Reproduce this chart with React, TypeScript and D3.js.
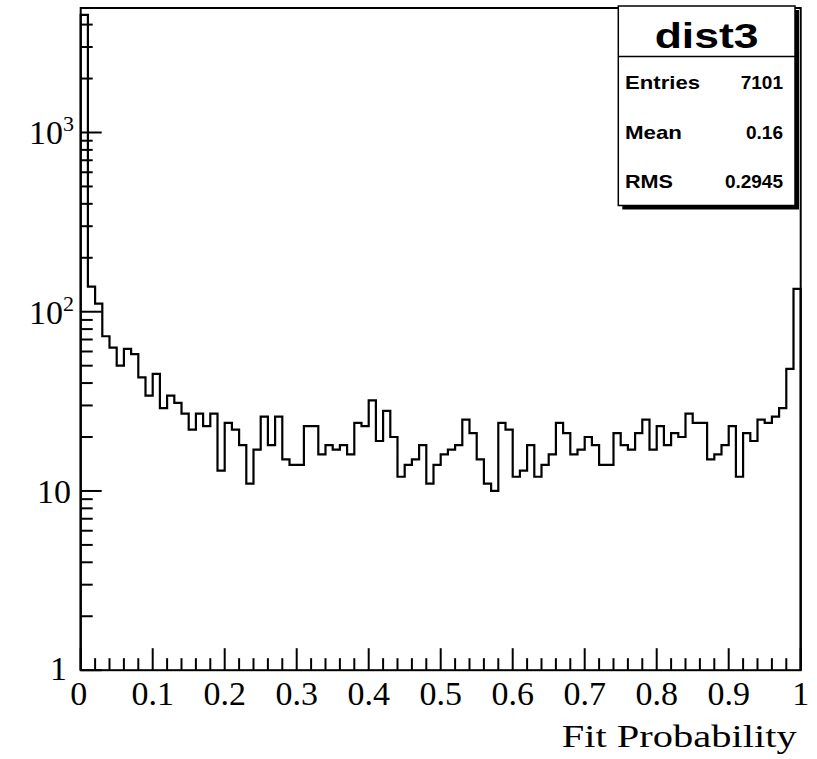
import React from 'react';
import * as d3 from 'd3';

// Histogram "dist3": 100 bins over [0, 1]
const binCounts = [
  4531, 138, 111, 73, 63, 50, 62, 58, 43, 34,
  45, 29, 34, 31, 27, 22, 27, 23, 27, 13,
  24, 22, 18, 11, 17, 26, 18, 26, 15, 14,
  14, 23, 23, 16, 18, 17, 18, 16, 24, 23,
  32, 19, 28, 20, 12, 14, 15, 18, 11, 14,
  16, 17, 18, 25, 21, 15, 11, 10, 24, 22,
  12, 13, 18, 12, 14, 16, 24, 21, 16, 17,
  20, 18, 14, 14, 21, 18, 17, 21, 25, 17,
  23, 18, 21, 20, 27, 24, 24, 15, 16, 18,
  23, 12, 21, 19, 25, 24, 26, 29, 48, 134,
];
const xMin = 0;
const xMax = 1;
const xTickValues = [0, 0.1, 0.2, 0.3, 0.4, 0.5, 0.6, 0.7, 0.8, 0.9, 1];
const xTickLabels = ['0', '0.1', '0.2', '0.3', '0.4', '0.5', '0.6', '0.7', '0.8', '0.9', '1'];
const yTickValues = [1, 10, 100, 1000];
const yTickBase = ['1', '10', '10', '10'];
const yTickExp = ['', '', '2', '3'];
const statsTitle = 'dist3';
const statsLabels = ['Entries', 'Mean', 'RMS'];
const statsValues = ['7101', '0.16', '0.2945'];
const xTitle = 'Fit Probability';

const W = 817;
const H = 759;
const L = 80.7;
const R = 800.7;
const T = 8;
const B = 670.2;

export default function App() {
  const x = d3.scaleLinear().domain([xMin, xMax]).range([L, R]);
  const y = d3.scaleLog().domain([1, 4950]).range([B, T]);
  const nb = binCounts.length;
  const bw = (xMax - xMin) / nb;

  const pts: [number, number][] = [[xMin, 1]];
  binCounts.forEach((c, i) => {
    pts.push([xMin + i * bw, c]);
    pts.push([xMin + (i + 1) * bw, c]);
  });
  pts.push([xMax, 1]);
  const line = d3
    .line<[number, number]>()
    .x((d) => x(d[0]))
    .y((d) => y(d[1]));

  // minor ticks
  const xMinor: number[] = [];
  for (let i = 0; i <= 50; i++) if (i % 5 !== 0) xMinor.push(xMin + i * 0.02);
  const yMinor: number[] = [];
  [1, 10, 100, 1000].forEach((dec) => {
    for (let k = 2; k <= 9; k++) {
      const v = dec * k;
      if (v <= 4950) yMinor.push(v);
    }
  });

  const serif = '"Liberation Serif", "Times New Roman", serif';
  const sans = '"Liberation Sans", Arial, Helvetica, sans-serif';

  // stats box
  const bx0 = 618.3;
  const bx1 = 795;
  const by0 = 6;
  const by1 = 205.5;
  const sep = 56.5;
  const rowBase = [89.3, 138.8, 188.3];
  const labelW = [75, 57, 48];

  return (
    <svg
      width={W}
      height={H}
      style={{ position: 'absolute', left: 0, top: 0, background: '#fff' }}
    >
      <rect x={0} y={0} width={W} height={H} fill="#fff" />
      {/* histogram */}
      <path d={line(pts) || ''} fill="none" stroke="#000" strokeWidth={2.2} />
      {/* frame */}
      <rect x={L} y={T} width={R - L} height={B - T} fill="none" stroke="#000" strokeWidth={2} />
      {/* x ticks */}
      {xTickValues.map((v) => (
        <line key={'xt' + v} x1={x(v)} x2={x(v)} y1={B} y2={B - 22} stroke="#000" strokeWidth={2} />
      ))}
      {xMinor.map((v, i) => (
        <line key={'xm' + i} x1={x(v)} x2={x(v)} y1={B} y2={B - 12} stroke="#000" strokeWidth={2} />
      ))}
      {/* y ticks */}
      {yTickValues.map((v) => (
        <line key={'yt' + v} x1={L} x2={L + 21} y1={y(v)} y2={y(v)} stroke="#000" strokeWidth={2} />
      ))}
      {yMinor.map((v, i) => (
        <line key={'ym' + i} x1={L} x2={L + 12} y1={y(v)} y2={y(v)} stroke="#000" strokeWidth={2} />
      ))}
      {/* x labels */}
      {xTickValues.map((v, i) => (
        <text
          key={'xl' + v}
          x={x(v) + (i === 0 ? -2 : 0)}
          y={705}
          textAnchor="middle"
          fontFamily={serif}
          fontSize={34}
          fill="#000"
        >
          {xTickLabels[i]}
        </text>
      ))}
      {/* y labels */}
      {yTickValues.map((v, i) => (
        <text
          key={'yl' + v}
          x={yTickExp[i] ? 63 : i === 0 ? 67 : 71}
          y={y(v) + (i === 0 ? 10 : 12)}
          textAnchor="end"
          fontFamily={serif}
          fontSize={34}
          fill="#000"
        >
          {yTickBase[i]}
        </text>
      ))}
      {yTickValues.map((v, i) =>
        yTickExp[i] ? (
          <text
            key={'ye' + v}
            x={63}
            y={y(v) - 1}
            textAnchor="start"
            fontFamily={serif}
            fontSize={22}
            fill="#000"
          >
            {yTickExp[i]}
          </text>
        ) : null
      )}
      {/* x title */}
      <text
        x={796.7}
        y={746.7}
        textAnchor="end"
        fontFamily={serif}
        fontSize={31}
        textLength={235}
        lengthAdjust="spacingAndGlyphs"
        fill="#000"
      >
        {xTitle}
      </text>
      {/* stats box with shadow */}
      <rect x={bx0 + 4} y={by0 + 4} width={bx1 - bx0} height={by1 - by0} fill="#000" />
      <rect x={bx0} y={by0} width={bx1 - bx0} height={by1 - by0} fill="#fff" stroke="#000" strokeWidth={1.5} />
      <line x1={bx0} x2={bx1} y1={sep} y2={sep} stroke="#000" strokeWidth={1.5} />
      <text
        x={(bx0 + bx1) / 2}
        y={48.3}
        textAnchor="middle"
        fontFamily={sans}
        fontWeight="bold"
        fontSize={35}
        textLength={104}
        lengthAdjust="spacingAndGlyphs"
        fill="#000"
      >
        {statsTitle}
      </text>
      {statsLabels.map((s, i) => (
        <text
          key={'sl' + s}
          x={625}
          y={rowBase[i]}
          fontFamily={sans}
          fontWeight="bold"
          fontSize={19}
          textLength={labelW[i]}
          lengthAdjust="spacingAndGlyphs"
          fill="#000"
        >
          {s}
        </text>
      ))}
      {statsValues.map((s, i) => (
        <text
          key={'sv' + s}
          x={783}
          y={rowBase[i]}
          textAnchor="end"
          fontFamily={sans}
          fontWeight="bold"
          fontSize={19}
          fill="#000"
        >
          {s}
        </text>
      ))}
    </svg>
  );
}
